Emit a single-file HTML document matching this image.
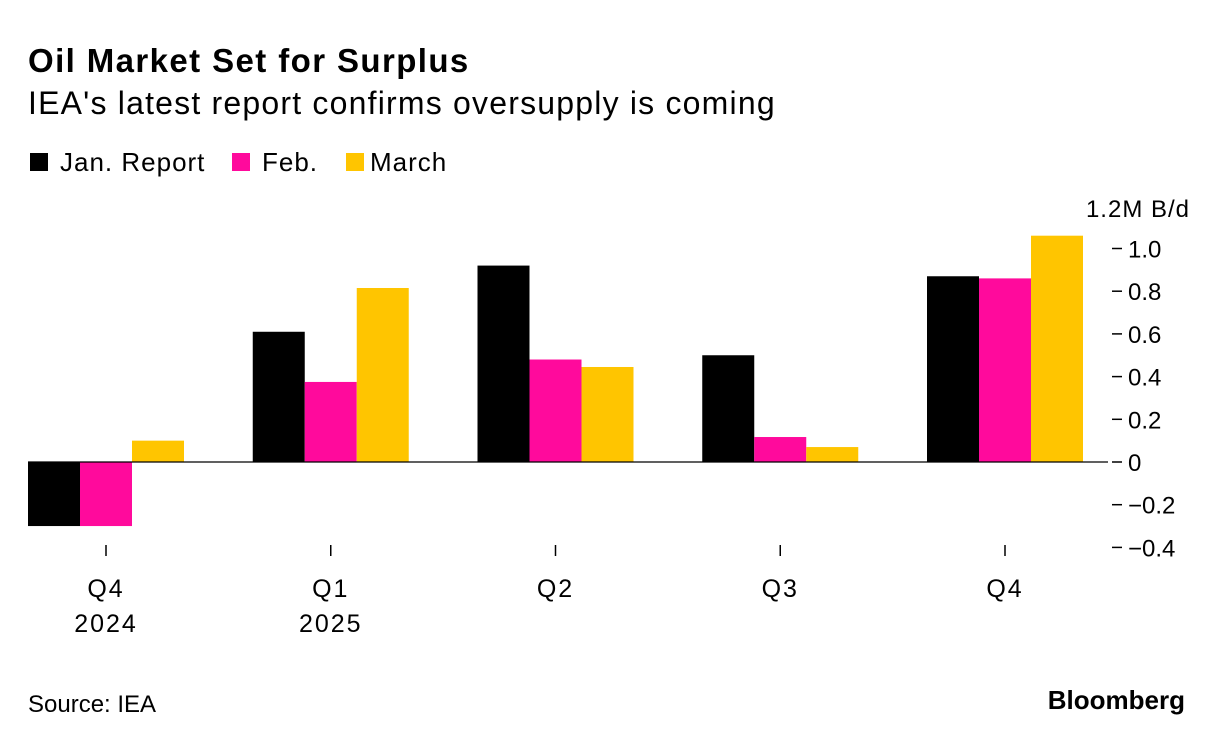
<!DOCTYPE html>
<html><head><meta charset="utf-8">
<style>
body{margin:0;background:#fff;width:1223px;height:744px;overflow:hidden;font-family:"Liberation Sans",sans-serif;color:#000}
</style></head>
<body>
<svg width="1223" height="744" xmlns="http://www.w3.org/2000/svg" style="font-family:'Liberation Sans',sans-serif">
<text x="28" y="72" font-size="33" font-weight="bold" letter-spacing="1.4">Oil Market Set for Surplus</text>
<text x="28" y="114" font-size="32" letter-spacing="1.2">IEA's latest report confirms oversupply is coming</text>
<g>
<rect x="30" y="153" width="18" height="18" fill="#000"/>
<text x="60" y="171" font-size="26" letter-spacing="1">Jan. Report</text>
<rect x="232" y="153" width="18" height="18" fill="#ff0a9c"/>
<text x="262" y="171" font-size="26" letter-spacing="1">Feb.</text>
<rect x="346" y="153" width="18" height="18" fill="#ffc500"/>
<text x="370" y="171" font-size="26" letter-spacing="1">March</text>
</g>
<text x="1190" y="217" font-size="24" letter-spacing="1" text-anchor="end">1.2M B/d</text>
<g id="bars"></g>
<g id="axes"></g>
<text x="28" y="712" font-size="24">Source: IEA</text>
<text x="1185" y="709" font-size="26" font-weight="bold" text-anchor="end">Bloomberg</text>
</svg>
<script>
const categories = ["Q4", "Q1", "Q2", "Q3", "Q4"];
const yearLabels = ["2024", "2025", "", "", ""];
const janValues = [-0.30, 0.61, 0.92, 0.50, 0.87];
const febValues = [-0.30, 0.375, 0.48, 0.117, 0.86];
const marchValues = [0.10, 0.815, 0.445, 0.07, 1.06];
const yTicks = [1.0, 0.8, 0.6, 0.4, 0.2, 0, -0.2, -0.4];
const yTickLabels = ["1.0", "0.8", "0.6", "0.4", "0.2", "0", "\u22120.2", "\u22120.4"];

const NS = "http://www.w3.org/2000/svg";
function y(v){ return 462 - v * 213.5; }
function xc(i){ return 106 + i * 224.75; }
const barW = 52;
const series = [[janValues, "#000", "jan"], [febValues, "#ff0a9c", "feb"], [marchValues, "#ffc500", "march"]];
const bars = document.getElementById("bars");
categories.forEach((c, i) => {
  series.forEach((s, k) => {
    const v = s[0][i];
    const r = document.createElementNS(NS, "rect");
    r.setAttribute("x", xc(i) - 78 + k * barW);
    r.setAttribute("y", Math.min(y(v), y(0)));
    r.setAttribute("width", barW);
    r.setAttribute("height", Math.abs(y(v) - y(0)));
    r.setAttribute("fill", s[1]);
    
    
    bars.appendChild(r);
  });
});
const axes = document.getElementById("axes");
const zl = document.createElementNS(NS, "line");
zl.setAttribute("x1", 28); zl.setAttribute("x2", 1108);
zl.setAttribute("y1", y(0)); zl.setAttribute("y2", y(0));
zl.setAttribute("stroke", "#000"); zl.setAttribute("stroke-width", "1.2");


axes.appendChild(zl);
yTicks.forEach((t, i) => {
  const l = document.createElementNS(NS, "line");
  l.setAttribute("x1", 1112); l.setAttribute("x2", 1122);
  l.setAttribute("y1", y(t)); l.setAttribute("y2", y(t));
  l.setAttribute("stroke", "#000"); l.setAttribute("stroke-width", "1.5");
  
  
  axes.appendChild(l);
  const tx = document.createElementNS(NS, "text");
  tx.setAttribute("x", 1128); tx.setAttribute("y", y(t) + 9);
  tx.setAttribute("font-size", "24");
  tx.textContent = yTickLabels[i];
  
  
  axes.appendChild(tx);
});
categories.forEach((c, i) => {
  const l = document.createElementNS(NS, "line");
  l.setAttribute("x1", xc(i)); l.setAttribute("x2", xc(i));
  l.setAttribute("y1", 545); l.setAttribute("y2", 556);
  l.setAttribute("stroke", "#000"); l.setAttribute("stroke-width", "1.5");
  
  
  axes.appendChild(l);
  const tx = document.createElementNS(NS, "text");
  tx.setAttribute("x", xc(i)); tx.setAttribute("y", 597);
  tx.setAttribute("font-size", "25"); tx.setAttribute("letter-spacing", "2"); tx.setAttribute("text-anchor", "middle");
  tx.textContent = c;
  
  
  axes.appendChild(tx);
  if (yearLabels[i]) {
    const yr = document.createElementNS(NS, "text");
    yr.setAttribute("x", xc(i)); yr.setAttribute("y", 632);
    yr.setAttribute("font-size", "25"); yr.setAttribute("letter-spacing", "2"); yr.setAttribute("text-anchor", "middle");
    yr.textContent = yearLabels[i];
    
    
    axes.appendChild(yr);
  }
});
</script>
</body></html>
